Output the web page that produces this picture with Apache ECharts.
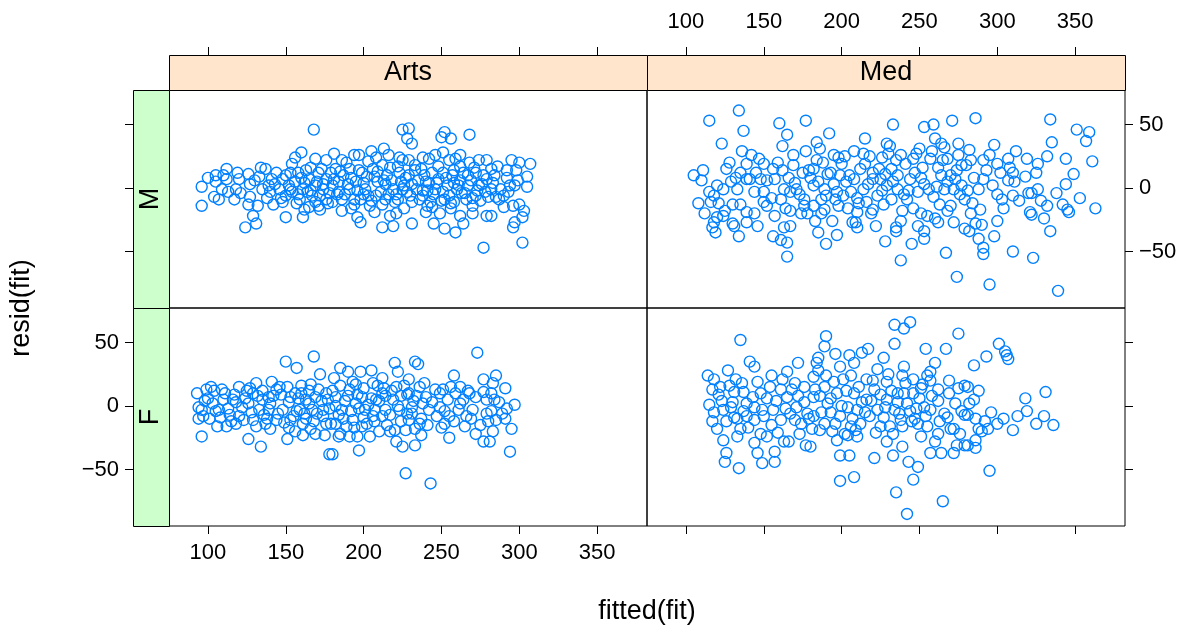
<!DOCTYPE html>
<html>
<head>
<meta charset="utf-8">
<script src="https://cdn.jsdelivr.net/npm/echarts@6/dist/echarts.min.js"></script>
<style>
  html, body { margin: 0; padding: 0; background: #fff; }
  #main { width: 1201px; height: 632px; }
</style>
</head>
<body>
<div id="main"></div>
<script>
// panel values: [fitted, resid]
const artsM = [
  [168,46],[96,1],[96,-14],[105,10],[105,5],[104,-7],[107,-9],[112,15],[112,7],[119,12],[120,7],[117,-9],[118,-1],[109,-1],
  [126,11],[127,-7],[126,-13],[132,-14],[129,-22],[131,-28],[124,-31],[134,16],[130,6],[137,15],[144,12],[139,2],[135,-1],
  [142,-13],[148,-11],[150,-23],[161,-23],[154,19],[156,24],[160,28],[169,23],[165,-15],[172,-17],[176,22],
  [148,7],[152,2],[156,5],[161,-1],[165,7],[169,2],[174,-1],[150,-6],[159,-9],[167,-6],[176,-9],[153,12],[163,14],[171,12],
  [176,7],[146,-1],[141,7],[154,-3],[164,-3],[172,-6],[160,8],[169,-11],
  [225,46],[229,47],[228,39],[231,35],[252,44],[250,40],[256,39],[268,42],[277,-47],[181,27],[194,26],[197,26],[205,29],
  [213,31],[216,26],[225,22],[229,22],[242,23],[246,26],[251,28],[255,22],[259,23],[268,20],[274,22],[279,22],[212,-31],
  [219,-30],[231,-28],[245,-28],[252,-32],[259,-35],[264,-28],[270,-20],[279,-22],[198,-27],[196,-23],[186,-18],[180,-11],
  [221,-20],[217,-22],[240,-19],[249,-20],[262,-22],
  [182,15],[187,10],[191,-1],[184,-3],[195,5],[199,12],[201,-1],[198,-9],[206,15],[209,5],[208,-6],[204,-14],[212,18],
  [215,10],[219,-1],[214,-9],[223,12],[226,2],[222,-9],[229,10],[234,-1],[231,-11],[237,15],[240,5],[238,-6],[244,12],
  [246,-1],[243,-11],[251,12],[254,2],[252,-9],[257,10],[260,-1],[258,-11],[264,12],[267,2],[266,-9],[272,12],[274,2],
  [272,-6],[278,-3],[279,7],[181,7],[191,15],[194,-9],[186,-9],
  [158,-5],[162,4],[166,-2],[170,5],[174,3],[178,-4],[180,2],[184,5],[188,-5],[192,8],[196,-2],[200,4],[203,-6],[207,9],
  [211,-3],[214,3],[218,6],[221,-5],[224,5],[228,-3],[231,3],[235,6],[238,-2],[242,4],[245,-5],[248,7],[251,-3],[255,-6],
  [258,4],[262,6],[265,-4],[269,6],[273,-2],[276,3],[189,20],[203,21],[217,16],[233,18],[248,17],[262,17],[192,-16],
  [207,-19],[226,-16],[241,-14],[256,-16],[270,-14],
  [140,-3],[143,3],[147,-8],[150,10],[153,-1],[157,-12],[158,12],[162,-17],[166,16],[171,-14],[173,15],[177,-12],
  [179,12],[183,-5],[185,13],[190,3],[194,-13],[197,14],[200,-5],[202,9],[205,-10],[209,13],[212,-13],[213,6],[216,-5],
  [220,-11],[222,17],[225,-1],[227,8],[230,-6],[233,14],[236,-9],[239,10],[241,-2],[244,-15],[247,4],[250,-10],[253,8],
  [256,-12],[258,14],[261,2],[263,-4],[267,10],[270,-8],[271,16],[275,-10],[277,10],[280,-7],[283,4],[286,17],[290,-15],
  [293,-3],[299,6],[303,-18],[292,14],[186,22],[223,24],[238,24],[208,24],[262,26],[127,3],[121,-4],[133,9],[113,-3],
  [110,10],[100,8],[138,-8],
  [295,22],[300,20],[307,19],[298,14],[292,8],[305,9],[297,2],[305,1],[288,-1],[290,-6],[285,-7],[282,-1],[282,15],
  [284,10],[296,-14],[300,-13],[302,-23],[297,-27],[296,-31],[302,-43],[282,-22],[294,2],[287,-9]
];

const medM = [
  [134,61],[115,53],[137,45],[160,51],[165,42],[162,33],[123,35],[136,29],[177,53],[177,29],[105,10],[111,14],[110,6],
  [126,15],[169,26],[142,26],[147,23],[150,19],[139,19],[135,12],[120,2],[118,-6],[116,-11],[124,-1],[129,5],[133,-1],
  [139,7],[144,-3],[141,7],[148,7],[130,-13],[135,-13],[139,-19],[144,-20],[150,-11],[152,-14],[157,-22],[120,-23],
  [124,-22],[118,-27],[117,-31],[119,-35],[130,-28],[131,-30],[134,-38],[139,-27],[146,-30],[156,-38],[163,-31],
  [167,-30],[161,-41],[165,-43],[165,-54],[156,15],[162,14],[166,8],[169,18],[175,12],[163,-1],[167,-3],[171,-1],
  [176,-9],[174,-20],[167,-18],[152,6],[157,7],[161,-9],[115,-3],
  [192,43],[215,39],[233,50],[253,48],[259,50],[271,53],[260,39],[184,36],[186,31],[229,35],[231,33],[208,29],[198,24],
  [195,26],[226,24],[238,26],[250,31],[264,35],[266,32],[275,35],[275,26],[268,23],[257,23],[246,23],[241,19],[215,19],
  [212,15],[232,15],[228,11],[220,7],[208,7],[199,10],[191,11],[182,15],[182,2],[189,-1],[195,3],[201,-6],[206,-3],
  [214,-1],[223,-6],[229,2],[236,-1],[232,-9],[244,7],[249,-3],[256,-1],[264,10],[266,-1],[272,-1],[277,2],[270,10],
  [274,14],[279,-9],[270,-14],[182,-14],[187,-20],[194,-26],[185,-35],[190,-44],[197,-37],[210,-19],[209,-27],[210,-31],
  [207,-27],[222,-30],[228,-42],[235,-31],[235,-34],[238,-57],[239,-18],[245,-44],[249,-30],[253,-34],[253,-40],
  [251,-20],[260,-24],[262,-27],[267,-51],[274,-70],[272,-27],[279,-32],[187,-9],[198,-14],[216,-11],[242,-9],[225,7],
  [185,5],[190,-6],[197,-3],[203,5],[210,-8],[217,3],[220,12],[226,-2],[233,5],[240,-5],[247,12],[253,3],[259,-7],
  [262,16],[268,5],[276,-5],[280,18],[184,22],[200,19],[218,25],[235,22],[252,16],[189,-17],[204,-16],[220,-17],
  [246,-16],[263,-13],[178,-20],[176,-14],[180,8],
  [145,12],[150,-3],[155,-8],[159,20],[164,-16],[170,4],[173,-5],[179,14],[183,-26],[188,20],[193,12],[196,-9],[202,25],
  [205,10],[211,-12],[214,27],[219,-20],[224,15],[227,-13],[230,27],[236,10],[238,-26],[243,-2],[248,27],[251,8],
  [255,-22],[258,29],[261,1],[265,22],[268,-18],[273,7],[277,18],[281,-2],[284,-12],[293,14],[297,2],[304,-16],[308,16],
  [314,-10],[318,9],[326,19],[330,-24],[338,-4],[344,3],[353,-8],[121,-12],[128,20],[132,8],[112,-20],[108,-12],[125,-18],
  [286,55],[334,54],[351,46],[359,44],[357,37],[335,36],[298,34],[282,30],[312,29],[283,22],[295,26],[291,22],[307,23],
  [319,23],[332,25],[344,23],[361,21],[325,12],[349,11],[300,19],[302,12],[310,12],[285,8],[291,7],[307,6],[311,5],
  [288,-1],[300,-5],[303,-9],[310,-6],[320,-4],[326,-1],[322,-4],[328,-10],[332,-14],[342,-13],[345,-17],[346,-19],
  [363,-16],[321,-19],[322,-21],[289,-17],[283,-20],[286,-28],[290,-29],[300,-26],[298,-38],[288,-40],[291,-52],
  [291,-47],[310,-50],[323,-55],[334,-34],[295,-76],[339,-81],[282,-34]
];

const artsF = [
  [150,35],[168,39],[157,30],[172,25],[131,18],[141,19],[93,10],[96,-24],[126,-26],[134,-32],[151,-26],[178,-38],
  [102,15],[99,13],[109,13],[94,-10],[94,-1],[101,-10],[106,-16],[112,-16],[118,-14],[107,-3],[116,5],[122,-1],[129,10],
  [133,-3],[139,7],[144,-11],[137,-14],[129,-11],[148,-3],[151,15],[156,10],[163,5],[167,-3],[159,-3],[161,-14],
  [156,-20],[161,-23],[169,-22],[175,-23],[166,17],[176,10],[174,-3],[176,-14],[103,2],[96,-3],[144,13],[126,2],
  [135,5],[120,-8],[114,-7],[153,-11],[139,-3],[169,7],
  [273,42],[220,34],[222,27],[233,35],[235,33],[185,30],[190,27],[198,27],[205,28],[181,22],[212,22],[229,21],[258,24],
  [277,21],[246,13],[251,13],[268,10],[262,15],[180,-38],[197,-35],[227,-53],[243,-61],[233,-31],[225,-32],[221,-28],
  [255,-25],[272,-22],[277,-28],[204,-24],[191,-24],[250,-17],[237,-23],[269,-10],[279,-6],[279,5],
  [182,7],[186,-3],[182,-14],[191,13],[195,2],[193,-11],[199,7],[201,-3],[199,-16],[206,18],[208,5],[206,-8],[212,10],
  [214,-3],[215,-15],[219,5],[221,15],[223,-3],[220,-19],[229,10],[231,-1],[229,-11],[236,15],[238,2],[236,-14],
  [242,-3],[240,7],[249,-1],[254,5],[255,-8],[259,10],[261,-3],[266,-8],[264,5],[252,-14],[189,-16],[227,-19],
  [124,6],[128,-5],[132,8],[136,-7],[140,2],[145,-6],[147,9],[152,3],[155,-8],[158,6],[162,-6],[165,12],[170,-6],
  [173,4],[178,-2],[180,12],[184,-7],[188,4],[192,-4],[196,9],[200,-9],[203,1],[207,-12],[210,4],[213,14],[217,-7],
  [224,8],[228,-6],[232,4],[110,5],[113,-2],[117,9],[100,6],[97,-8],[108,-9],[140,-18],[152,-17],[185,-22],[210,-20],
  [125,12],[160,16],[195,17],
  [142,8],[146,15],[149,-13],[153,7],[157,-4],[160,10],[163,-10],[165,2],[168,-12],[171,13],[174,-8],[177,5],[179,-14],
  [182,0],[185,16],[187,-10],[190,8],[193,19],[194,-17],[197,-2],[200,14],[202,-14],[205,6],[207,-3],[209,16],[212,-8],
  [214,8],[217,-20],[218,12],[222,0],[224,-12],[226,16],[228,9],[231,-6],[233,-18],[234,8],[237,-10],[239,18],[241,-15],
  [244,3],[247,-8],[249,10],[252,-4],[256,15],[258,-12],[262,2],[265,-16],[267,12],[270,-3],[272,7],[275,-15],[277,11],
  [280,-12],[282,-4],[287,3],[292,-2],[105,-4],[111,10],[115,-12],[118,3],[123,-11],[127,14],[131,-16],[135,12],
  [138,-10],[98,4],[104,12],[120,15],[166,-18],[184,-24],[196,-24],
  [285,24],[291,14],[283,18],[297,1],[284,5],[282,10],[289,-6],[291,-10],[285,-11],[295,-18],[283,-20],[294,-36],[281,-28]
];

const medF = [
  [135,52],[114,24],[118,21],[127,28],[141,35],[144,31],[155,24],[165,27],[172,34],[132,21],[117,13],[121,9],[115,1],
  [131,11],[137,11],[139,2],[129,-1],[124,-3],[117,-12],[120,-18],[131,-9],[135,-18],[133,-24],[124,-27],[126,-37],
  [125,-44],[134,-49],[144,-29],[146,-37],[149,-45],[157,-44],[157,-36],[163,-28],[166,-28],[148,-22],[152,-24],
  [144,-1],[148,10],[154,15],[161,13],[165,7],[156,-3],[161,-11],[167,-6],[171,-1],[174,-14],[177,-31],[176,15],
  [170,18],[144,-11],[150,-8],[139,-8],
  [234,64],[240,61],[244,66],[275,57],[190,55],[189,47],[234,49],[213,42],[217,45],[254,45],[267,45],[260,34],[227,38],
  [196,41],[205,40],[185,38],[184,34],[223,29],[240,31],[239,24],[255,24],[257,27],[199,31],[208,34],[216,21],[229,19],
  [246,21],[269,20],[275,14],[279,16],[262,13],[273,2],[268,-9],[279,-7],[253,-1],[257,-3],[247,-10],[238,-11],
  [180,-32],[199,-39],[205,-39],[221,-41],[199,-59],[208,-56],[243,-44],[249,-48],[246,-58],[235,-68],[242,-85],
  [265,-75],[233,-39],[239,-32],[257,-37],[264,-37],[272,-37],[274,-31],[279,-31],[262,-22],[251,-24],[229,-28],
  [210,-24],[204,-23],[197,-27],[186,-19],
  [182,23],[189,15],[182,7],[191,2],[182,-8],[189,-14],[197,10],[201,21],[204,-1],[199,-8],[208,10],[210,-3],[212,-14],
  [216,5],[221,13],[223,-3],[225,-16],[229,5],[234,-3],[236,10],[231,-16],[240,10],[242,2],[246,10],[249,-14],
  [255,-16],[206,-16],
  [186,8],[193,-5],[195,19],[203,12],[207,-10],[213,3],[218,-8],[220,20],[227,-9],[232,12],[237,-6],[244,-4],[250,6],
  [252,17],[258,8],[263,-12],[270,-18],[276,-22],[128,16],[123,4],[137,-4],[158,4],[172,8],[178,-6],[181,-18],[185,28],
  [194,-20],
  [118,-5],[122,15],[126,-12],[130,3],[133,-10],[136,18],[140,-17],[143,7],[146,19],[149,-3],[152,6],[155,-15],
  [159,-21],[162,21],[164,-2],[168,13],[170,-11],[173,-22],[176,3],[179,-10],[183,13],[187,-5],[190,24],[193,6],
  [196,-14],[200,0],[202,-22],[206,24],[209,-19],[211,15],[215,-5],[219,4],[222,-21],[225,9],[228,-1],[230,25],
  [233,-22],[236,3],[239,-16],[241,18],[245,-12],[248,-2],[251,14],[254,-8],[257,20],[260,-28],[262,4],[266,-6],
  [269,10],[272,-18],[277,-4],[282,2],[288,12],[296,-5],[304,-10],[318,6],[325,-14],[288,-18],
  [301,49],[305,43],[306,40],[307,37],[293,39],[285,32],[331,11],[281,15],[285,5],[286,-10],[281,-7],[292,-12],
  [300,-14],[294,-18],[290,-20],[310,-19],[313,-8],[319,-4],[330,-8],[336,-15],[286,-27],[286,-33],[281,-31],[295,-51]
];

const xTicks = [100, 150, 200, 250, 300, 350];
const yTicks = [-50, 0, 50];
const columns = ['Arts', 'Med'];
const rows = ['M', 'F'];

const FONT = '"Liberation Sans", Arial, Helvetica, sans-serif';
const X_MIN = 75, X_MAX = 382;
const Y_MIN = -94.5, Y_MAX = 77.2;

const chart = echarts.init(document.getElementById('main'));

const panelLeft = [169, 647];
const panelTop = [90, 308];
const panelW = 478, panelH = 218;

const grids = [];
panelTop.forEach(t => panelLeft.forEach(l => {
  grids.push({ left: l, top: t, width: panelW, height: panelH, show: true,
    borderColor: '#000', borderWidth: 1, backgroundColor: 'transparent' });
}));

const minus = v => String(v).replace('-', '\u2212');

function xAxis(i, pos, labels) {
  return {
    gridIndex: i, type: 'value', position: pos, offset: pos === 'top' ? 35 : 0,
    min: X_MIN, max: X_MAX,
    axisLine: { show: false, onZero: false },
    splitLine: { show: false },
    axisTick: { show: true, length: 8, inside: false, customValues: xTicks,
      lineStyle: { color: '#000', width: 1 } },
    axisLabel: { show: labels, customValues: xTicks, margin: pos === 'top' ? 22 : 16,
      color: '#000', fontSize: 22, fontFamily: FONT }
  };
}

function yAxis(i, pos, labels) {
  return {
    gridIndex: i, type: 'value', position: pos, offset: pos === 'left' ? 36 : 0,
    min: Y_MIN, max: Y_MAX,
    axisLine: { show: false, onZero: false },
    splitLine: { show: false },
    axisTick: { show: true, length: 8, inside: false, customValues: yTicks,
      lineStyle: { color: '#000', width: 1 } },
    axisLabel: { show: labels, customValues: yTicks, margin: 14, formatter: minus,
      color: '#000', fontSize: 22, fontFamily: FONT }
  };
}

const panels = [artsM, medM, artsF, medF];
const series = panels.map((d, i) => ({
  type: 'scatter',
  xAxisIndex: i, yAxisIndex: i,
  data: d,
  symbol: 'circle',
  symbolSize: 11,
  silent: true,
  itemStyle: { color: 'rgba(0,0,0,0)', borderColor: '#0080ff', borderWidth: 1.4, opacity: 1 }
}));

// strips
const graphic = [];
columns.forEach((c, j) => {
  graphic.push({ type: 'rect', left: panelLeft[j], top: 55,
    shape: { width: panelW, height: 35 },
    style: { fill: '#ffe5cc', stroke: '#000', lineWidth: 1 } });
  graphic.push({ type: 'text', x: panelLeft[j] + panelW / 2, y: 72.5,
    style: { text: c, fill: '#000', font: '27px ' + FONT, align: 'center', verticalAlign: 'middle' } });
});
rows.forEach((r, k) => {
  graphic.push({ type: 'rect', left: 133, top: panelTop[k],
    shape: { width: 36, height: panelH },
    style: { fill: '#ccffcc', stroke: '#000', lineWidth: 1 } });
  graphic.push({ type: 'text', x: 151, y: panelTop[k] + panelH / 2, rotation: Math.PI / 2,
    style: { text: r, fill: '#000', font: '27px ' + FONT, align: 'center', verticalAlign: 'middle' } });
});
graphic.push({ type: 'text', x: 647, y: 612,
  style: { text: 'fitted(fit)', fill: '#000', font: '27px ' + FONT, align: 'center', verticalAlign: 'middle' } });
graphic.push({ type: 'text', x: 22, y: 308, rotation: Math.PI / 2,
  style: { text: 'resid(fit)', fill: '#000', font: '27px ' + FONT, align: 'center', verticalAlign: 'middle' } });

chart.setOption({
  animation: false,
  grid: grids,
  xAxis: [xAxis(0, 'top', false), xAxis(1, 'top', true), xAxis(2, 'bottom', true), xAxis(3, 'bottom', false)],
  yAxis: [yAxis(0, 'left', false), yAxis(1, 'right', true), yAxis(2, 'left', true), yAxis(3, 'right', false)],
  series: series,
  graphic: graphic
});
</script>
</body>
</html>
